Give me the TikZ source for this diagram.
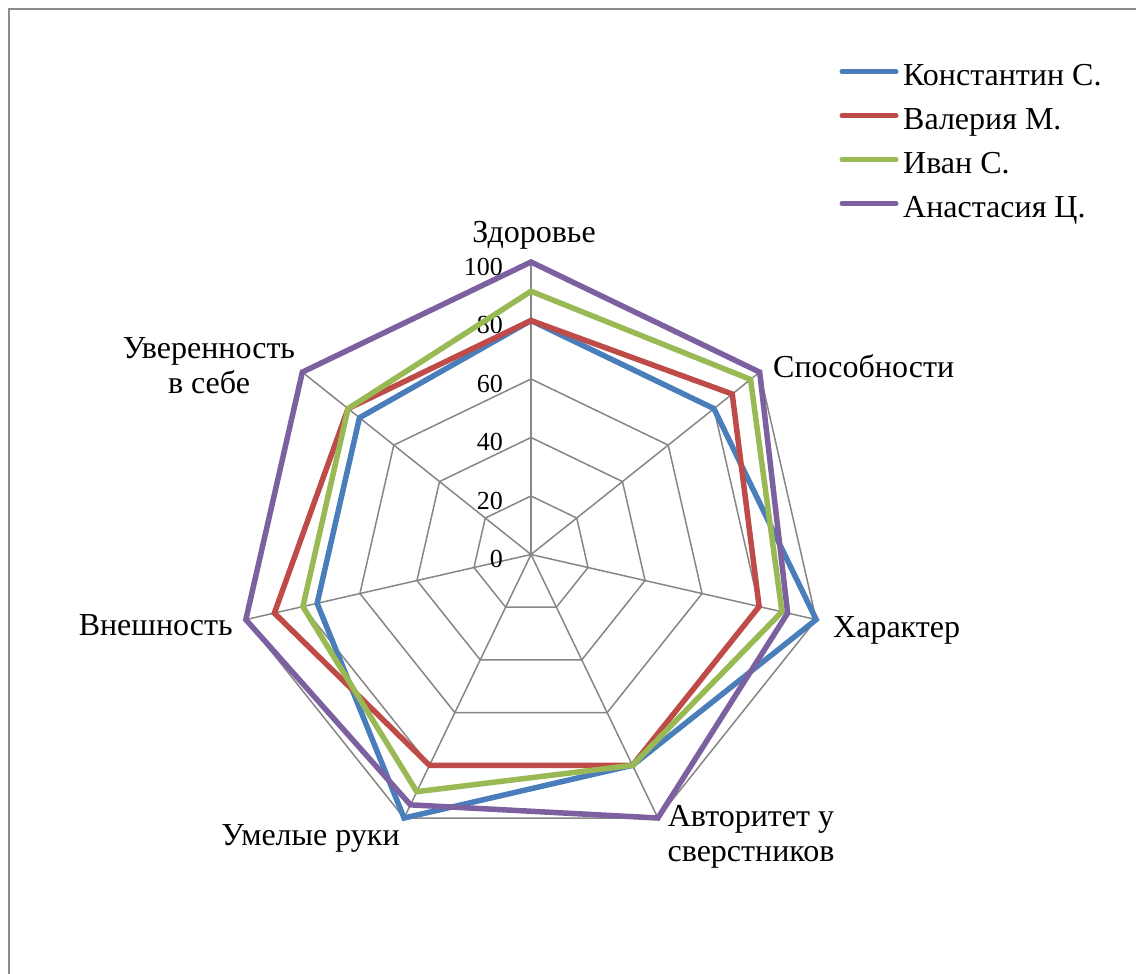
\documentclass[tikz,border=0pt]{standalone}
\usepackage{fontspec}
\setmainfont{Liberation Serif}
\usetikzlibrary{calc}
\definecolor{sblue}{HTML}{4A7EBB}
\definecolor{sred}{HTML}{BE4B48}
\definecolor{sgreen}{HTML}{98B954}
\definecolor{spurple}{HTML}{7D60A0}
\definecolor{gridgray}{HTML}{868686}
\definecolor{framegray}{HTML}{8C8C8C}
\tikzset{
  gridline/.style={draw=gridgray, line width=1.5pt},
  series/.style={line width=5.5pt, line join=miter},
  legline/.style={line width=5pt, line cap=round},
  ticklbl/.style={inner sep=0pt, font=\fontsize{26}{30}\selectfont},
  axlbl/.style={inner sep=0pt, font=\fontsize{32}{35}\selectfont, align=center},
  leglbl/.style={inner sep=0pt, font=\fontsize{32}{35}\selectfont, anchor=base west},
}
\begin{document}
\begin{tikzpicture}[x=1pt,y=-1pt]
\useasboundingbox (0,0) rectangle (1136,974);
% frame
\draw[framegray, line width=2pt] (8.5,974) -- (8.5,9) -- (1136,9);
\coordinate (c) at (531,554.5);
% axes end points
\foreach \k in {0,...,6} \coordinate (A\k) at ($(c)+({-90+\k*360/7}:292.5)$);
% grid polygons
\foreach \r in {20,40,60,80,100} {
  \draw[gridline] ($(c)+(-90:{\r*2.925})$)
    \foreach \k in {1,...,6} { -- ($(c)+({-90+\k*360/7}:{\r*2.925})$) } -- cycle;
}
% spokes
\foreach \k in {0,...,6} \draw[gridline] (c) -- (A\k);
% tick labels
\foreach \v in {0,20,40,60,80,100}
  \node[ticklbl, anchor=east] (t\v) at (503,{559-\v*2.925}) {\v};
% data
\foreach \v [count=\k from 0] in {80,80,100,80,100,75,75}
  \coordinate (B\k) at ($(c)+({-90+\k*360/7}:{\v*2.925})$);
\foreach \v [count=\k from 0] in {80,88,80,80,80,90,80}
  \coordinate (R\k) at ($(c)+({-90+\k*360/7}:{\v*2.925})$);
\foreach \v [count=\k from 0] in {90,96,88,80,90,80,80}
  \coordinate (G\k) at ($(c)+({-90+\k*360/7}:{\v*2.925})$);
\foreach \v [count=\k from 0] in {100,100,90,100,95,100,100}
  \coordinate (P\k) at ($(c)+({-90+\k*360/7}:{\v*2.925})$);
\draw[series, sblue] (B0)--(B1)--(B2)--(B3)--(B4)--(B5)--(B6)--cycle;
\draw[series, sred] (R0)--(R1)--(R2)--(R3)--(R4)--(R5)--(R6)--cycle;
\draw[series, sgreen] (G0)--(G1)--(G2)--(G3)--(G4)--(G5)--(G6)--cycle;
\draw[series, spurple] (P0)--(P1)--(P2)--(P3)--(P4)--(P5)--(P6)--cycle;
% axis labels
\node[axlbl, anchor=base] (l0) at (534,242) {Здоровье};
\node[axlbl, anchor=base west] (l1) at (773,377) {Способности};
\node[axlbl, anchor=base west] (l2) at (833,637) {Характер};
\node[axlbl, anchor=north] (l3) at (751,805) {Авторитет у\\сверстников};
\node[axlbl, anchor=base] (l4) at (310.5,845) {Умелые руки};
\node[axlbl, anchor=base east] (l5) at (233,635) {Внешность};
\node[axlbl, anchor=north] (l6) at (209,337) {Уверенность\\в себе};
% legend
\coordinate (k1a) at (842,71.7);  \coordinate (k1b) at (896,71.7);
\coordinate (k2a) at (842,115.7); \coordinate (k2b) at (896,115.7);
\coordinate (k3a) at (842,159.5); \coordinate (k3b) at (896,159.5);
\coordinate (k4a) at (842,203.3); \coordinate (k4b) at (896,203.3);
\draw[legline, sblue] (k1a) -- (k1b);
\draw[legline, sred] (k2a) -- (k2b);
\draw[legline, sgreen] (k3a) -- (k3b);
\draw[legline, spurple] (k4a) -- (k4b);
\node[leglbl] (e1) at (903,85) {Константин С.};
\node[leglbl] (e2) at (903,129) {Валерия М.};
\node[leglbl] (e3) at (903,173) {Иван С.};
\node[leglbl] (e4) at (903,217) {Анастасия Ц.};
\end{tikzpicture}
\end{document}
